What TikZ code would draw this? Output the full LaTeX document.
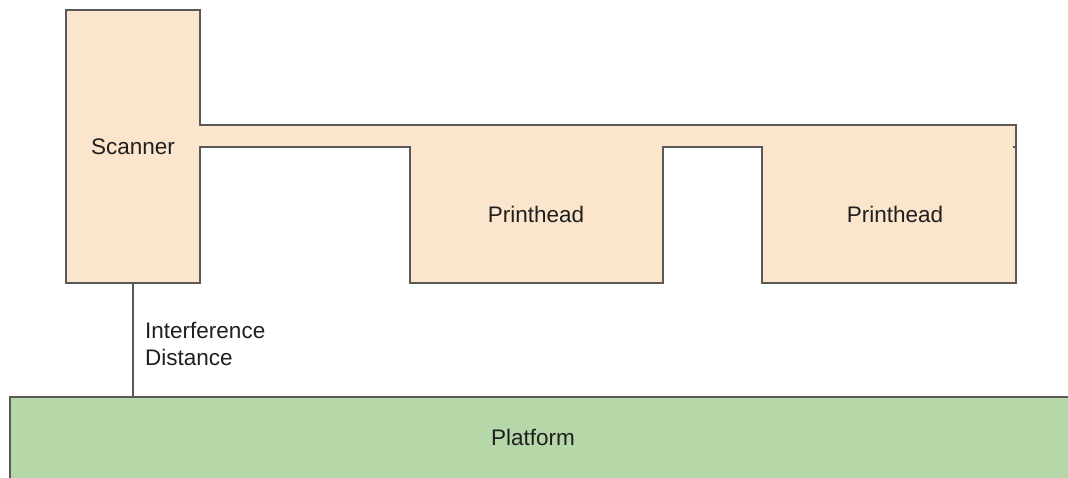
\documentclass[tikz,border=0pt]{standalone}
\usepackage{fontspec}
\setmainfont{Liberation Sans}
\definecolor{partfill}{HTML}{FCE5CD}
\definecolor{platfill}{HTML}{B6D7A8}
\definecolor{edge}{HTML}{595959}
\definecolor{ink}{HTML}{1F1F1F}
\begin{document}
\begin{tikzpicture}[x=1pt,y=-1pt,
  part/.style={fill=partfill,inner sep=0pt,outer sep=0pt},
  outline/.style={draw=edge,line width=1.5pt,line join=miter},
  caption/.style={text=ink,font=\fontsize{22.5}{27}\selectfont,inner sep=0pt}]
\useasboundingbox (0,0) rectangle (1068,477);
\clip (0,0) rectangle (1068,477);

% carriage: scanner, connecting bar and two printheads
\node[part,minimum width=134pt,minimum height=273pt] (scanner) at (133,146.5) {};
\node[part,minimum width=253pt,minimum height=136pt] (ph1) at (536.5,215) {};
\node[part,minimum width=254pt,minimum height=136pt] (ph2) at (889,215) {};
\coordinate (barTL) at (200,125);
\coordinate (barTR) at (1016,125);
\fill[partfill] (barTL) rectangle (ph2.north east);

\draw[outline] (barTL) -- (scanner.north east) -- (scanner.north west)
  -- (scanner.south west) -- (scanner.south east)
  -- (scanner.east |- ph1.north) -- (ph1.north west) -- (ph1.south west)
  -- (ph1.south east) -- (ph1.north east) -- (ph2.north west)
  -- (ph2.south west) -- (ph2.south east) -- (barTR) -- cycle;
\draw[edge,line width=1.2pt] (ph2.north east) -- ++(-3,0);

\node[caption] (scannerText) at (133,147) {Scanner};
\node[caption] (ph1Text) at (536,214) {Printhead};
\node[caption] (ph2Text) at (895,214) {Printhead};

% platform
\node[fill=platfill,inner sep=0pt,outer sep=0pt,minimum width=1080pt,minimum height=100pt,anchor=north west] (platform) at (10,397) {};
\draw[outline] (platform.south west) -- (platform.north west) -- (platform.north east);
\node[caption] (platText) at (533,437) {Platform};

% interference distance
\draw[edge,line width=1.3pt] (scanner.south) -- (scanner.south |- platform.north);
\node[caption,align=left,anchor=base west] (gap) at (145,365) {Interference\\Distance};
\end{tikzpicture}
\end{document}
